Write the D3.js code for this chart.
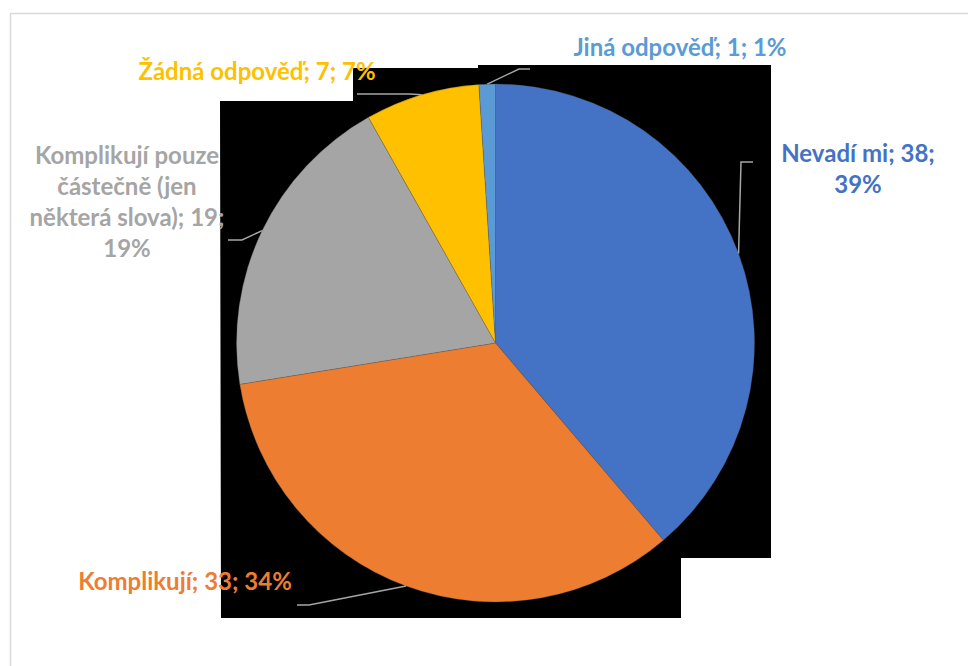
<!DOCTYPE html>
<html lang="cs">
<head>
<meta charset="UTF-8">
<title>Pie chart</title>
<script src="https://d3js.org/d3.v7.min.js"></script>
<style>
  html, body { margin: 0; padding: 0; background: #fff; }
  svg { display: block; }
  .lbl { font-family: Lato, "Open Sans", sans-serif; font-weight: 700; font-size: 24px; }
</style>
</head>
<body>
<div id="chart"></div>
<script>
// data
var categories = ["Nevadí mi", "Komplikují", "Komplikují pouze částečně (jen některá slova)", "Žádná odpověď", "Jiná odpověď"];
var counts = [38, 33, 19, 7, 1];
var colors = ["#4472C4", "#ED7D31", "#A5A5A5", "#FFC000", "#5B9BD5"];

var width = 968, height = 666;
var cx = 495.5, cy = 343, radius = 259;

// label placement (centre x, first baseline, words per line) and leader line bends
var labelPos = [
  {x: 858, y: 162, words: [3, 1],       line: [[741, 162], [753, 162]]},
  {x: 185, y: 590, words: [5],          line: [[309, 605], [297, 605]]},
  {x: 127, y: 164, words: [2, 2, 3, 1], line: [[242, 240], [228, 240]]},
  {x: 257, y: 80,  words: [5],          line: [[410, 94], [357, 94]]},
  {x: 680, y: 56,  words: [5],          line: [[519, 69], [530, 69]]}
];

var svg = d3.select("#chart").append("svg")
    .attr("width", width)
    .attr("height", height);

// outer frame
svg.append("rect")
    .attr("x", 10.5).attr("y", 13.5)
    .attr("width", 1000).attr("height", 700)
    .attr("fill", "#fff")
    .attr("stroke", "#d9d9d9")
    .attr("stroke-width", 1.5);

// dark backdrop behind the plot
svg.append("path")
    .attr("d", "M220,101H353V68H478V65H771V558H681V618H221Z")
    .attr("fill", "#000");

var total = d3.sum(counts);
var pie = d3.pie().sort(null).value(function(d) { return d; });
var arcs = pie(counts);

var arc = d3.arc().innerRadius(0).outerRadius(radius);

var g = svg.append("g")
    .attr("transform", "translate(" + cx + "," + cy + ")");

g.selectAll("path.slice")
    .data(arcs)
  .enter().append("path")
    .attr("class", "slice")
    .attr("d", arc)
    .attr("fill", function(d, i) { return colors[i]; })
    .attr("stroke", "rgba(90,90,90,0.5)")
    .attr("stroke-width", 0.6);

// leader lines from the middle of each slice edge
arcs.forEach(function(d, i) {
  var a = (d.startAngle + d.endAngle) / 2;
  var p0 = [cx + radius * Math.sin(a), cy - radius * Math.cos(a)];
  var pts = [p0].concat(labelPos[i].line);
  svg.append("path")
      .attr("d", d3.line()(pts))
      .attr("fill", "none")
      .attr("stroke", "#a6a6a6")
      .attr("stroke-width", 1.5);
});

// data labels
arcs.forEach(function(d, i) {
  var pct = Math.round(d.value / total * 100) + "%";
  var words = (categories[i] + "; " + d.value + "; " + pct).split(" ");
  var t = svg.append("text")
      .attr("class", "lbl")
      .attr("text-anchor", "middle")
      .attr("fill", colors[i]);
  var k = 0;
  labelPos[i].words.forEach(function(n, li) {
    t.append("tspan")
        .attr("x", labelPos[i].x)
        .attr("y", labelPos[i].y + li * 31)
        .text(words.slice(k, k + n).join(" "));
    k += n;
  });
});
</script>
</body>
</html>
